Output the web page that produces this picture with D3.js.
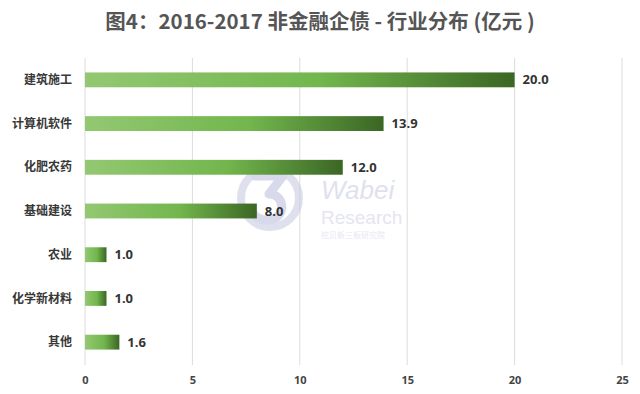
<!DOCTYPE html>
<html>
<head>
<meta charset="utf-8">
<script src="https://cdn.jsdelivr.net/npm/d3@7"></script>
<style>
  body { margin: 0; background: #fff; }
  svg { display: block; font-family: "Noto Sans CJK SC", "Open Sans", sans-serif; }
</style>
</head>
<body>
<svg width="640" height="394"></svg>
<script>
// data
const industries = ["建筑施工", "计算机软件", "化肥农药", "基础建设", "农业", "化学新材料", "其他"];
const amounts = [20.0, 13.9, 12.0, 8.0, 1.0, 1.0, 1.6];
const xTicks = [0, 5, 10, 15, 20, 25];
const title = "图4：2016-2017 非金融企债 - 行业分布 (亿元 )";

let svg = d3.select("svg"),
    margin = { top: 58, right: 18, bottom: 29, left: 85 };

let x = d3.scaleLinear().domain([0, 25]).range([0, 537]);
let y = d3.scaleBand().domain(industries).range([0, 306]).paddingInner(0.66).paddingOuter(0.33);

// gradient for bars, light left to dark right
let grad = svg.append("defs").append("linearGradient")
    .attr("id", "barGrad")
    .attr("x1", "0%").attr("x2", "100%").attr("y1", "0%").attr("y2", "0%");
grad.append("stop").attr("offset", "0%").attr("stop-color", "#93c872");
grad.append("stop").attr("offset", "55%").attr("stop-color", "#72b64d");
grad.append("stop").attr("offset", "100%").attr("stop-color", "#3b6624");

svg.append("text")
    .attr("x", 320).attr("y", 29)
    .attr("text-anchor", "middle")
    .attr("font-size", 20.5)
    .attr("font-weight", "bold")
    .attr("fill", "#555")
    .text(title);

let g = svg.append("g")
    .attr("transform", "translate(" + margin.left + "," + margin.top + ")");

// grid lines
g.append("g")
    .selectAll("line")
    .data(xTicks)
    .join("line")
    .attr("x1", d => x(d)).attr("x2", d => x(d))
    .attr("y1", 0).attr("y2", 307)
    .attr("stroke", "#dcdcdc")
    .attr("stroke-width", 1);

// watermark (logo drawn as shapes, text kept light)
let wm = g.append("g").attr("opacity", 0.55);
wm.append("circle").attr("cx", 185).attr("cy", 140).attr("r", 29)
    .attr("fill", "none").attr("stroke", "#c5c8e0").attr("stroke-width", 8);
wm.append("path")
    .attr("d", "M170,118 L198,118 L184,136 C200,136 202,160 184,162 C176,163 170,159 168,155")
    .attr("fill", "none").attr("stroke", "#b9bcdb").attr("stroke-width", 9)
    .attr("stroke-linejoin", "round").attr("stroke-linecap", "round");
wm.append("text").attr("x", 236).attr("y", 141)
    .attr("font-size", 26).attr("font-style", "italic").attr("fill", "#c6c9e2")
    .attr("font-family", "Liberation Sans, sans-serif").text("Wabei");
wm.append("text").attr("x", 236).attr("y", 166)
    .attr("font-size", 19).attr("fill", "#ced0e5")
    .attr("font-family", "Liberation Sans, sans-serif").text("Research");
wm.append("text").attr("x", 236).attr("y", 180)
    .attr("font-size", 8).attr("fill", "#d2d4e8")
    .text("挖贝新三板研究院");

// bars
g.selectAll(".bar")
    .data(amounts)
    .join("rect")
    .attr("class", "bar")
    .attr("x", 0)
    .attr("y", (d, i) => y(industries[i]))
    .attr("width", d => x(d))
    .attr("height", y.bandwidth())
    .attr("fill", "url(#barGrad)");

// value labels
g.selectAll(".val")
    .data(amounts)
    .join("text")
    .attr("class", "val")
    .attr("x", d => x(d) + 8)
    .attr("y", (d, i) => y(industries[i]) + y.bandwidth() / 2)
    .attr("dy", "0.35em")
    .attr("font-size", 13)
    .attr("font-weight", "bold")
    .attr("fill", "#333")
    .attr("font-family", "Open Sans, sans-serif")
    .text(d => d.toFixed(1));

// category labels
g.selectAll(".cat")
    .data(industries)
    .join("text")
    .attr("class", "cat")
    .attr("x", -13)
    .attr("y", d => y(d) + y.bandwidth() / 2)
    .attr("dy", "0.35em")
    .attr("text-anchor", "end")
    .attr("font-size", 12)
    .attr("font-weight", "bold")
    .attr("fill", "#383838")
    .text(d => d);

// x axis
let xAxis = g.append("g")
    .attr("transform", "translate(0," + 307 + ")")
    .call(d3.axisBottom(x).tickValues(xTicks).tickSize(0).tickPadding(11));
xAxis.select(".domain").remove();
xAxis.selectAll("text")
    .attr("font-size", 11)
    .attr("font-weight", "bold")
    .attr("fill", "#444")
    .attr("font-family", "Open Sans, sans-serif");
</script>
</body>
</html>
